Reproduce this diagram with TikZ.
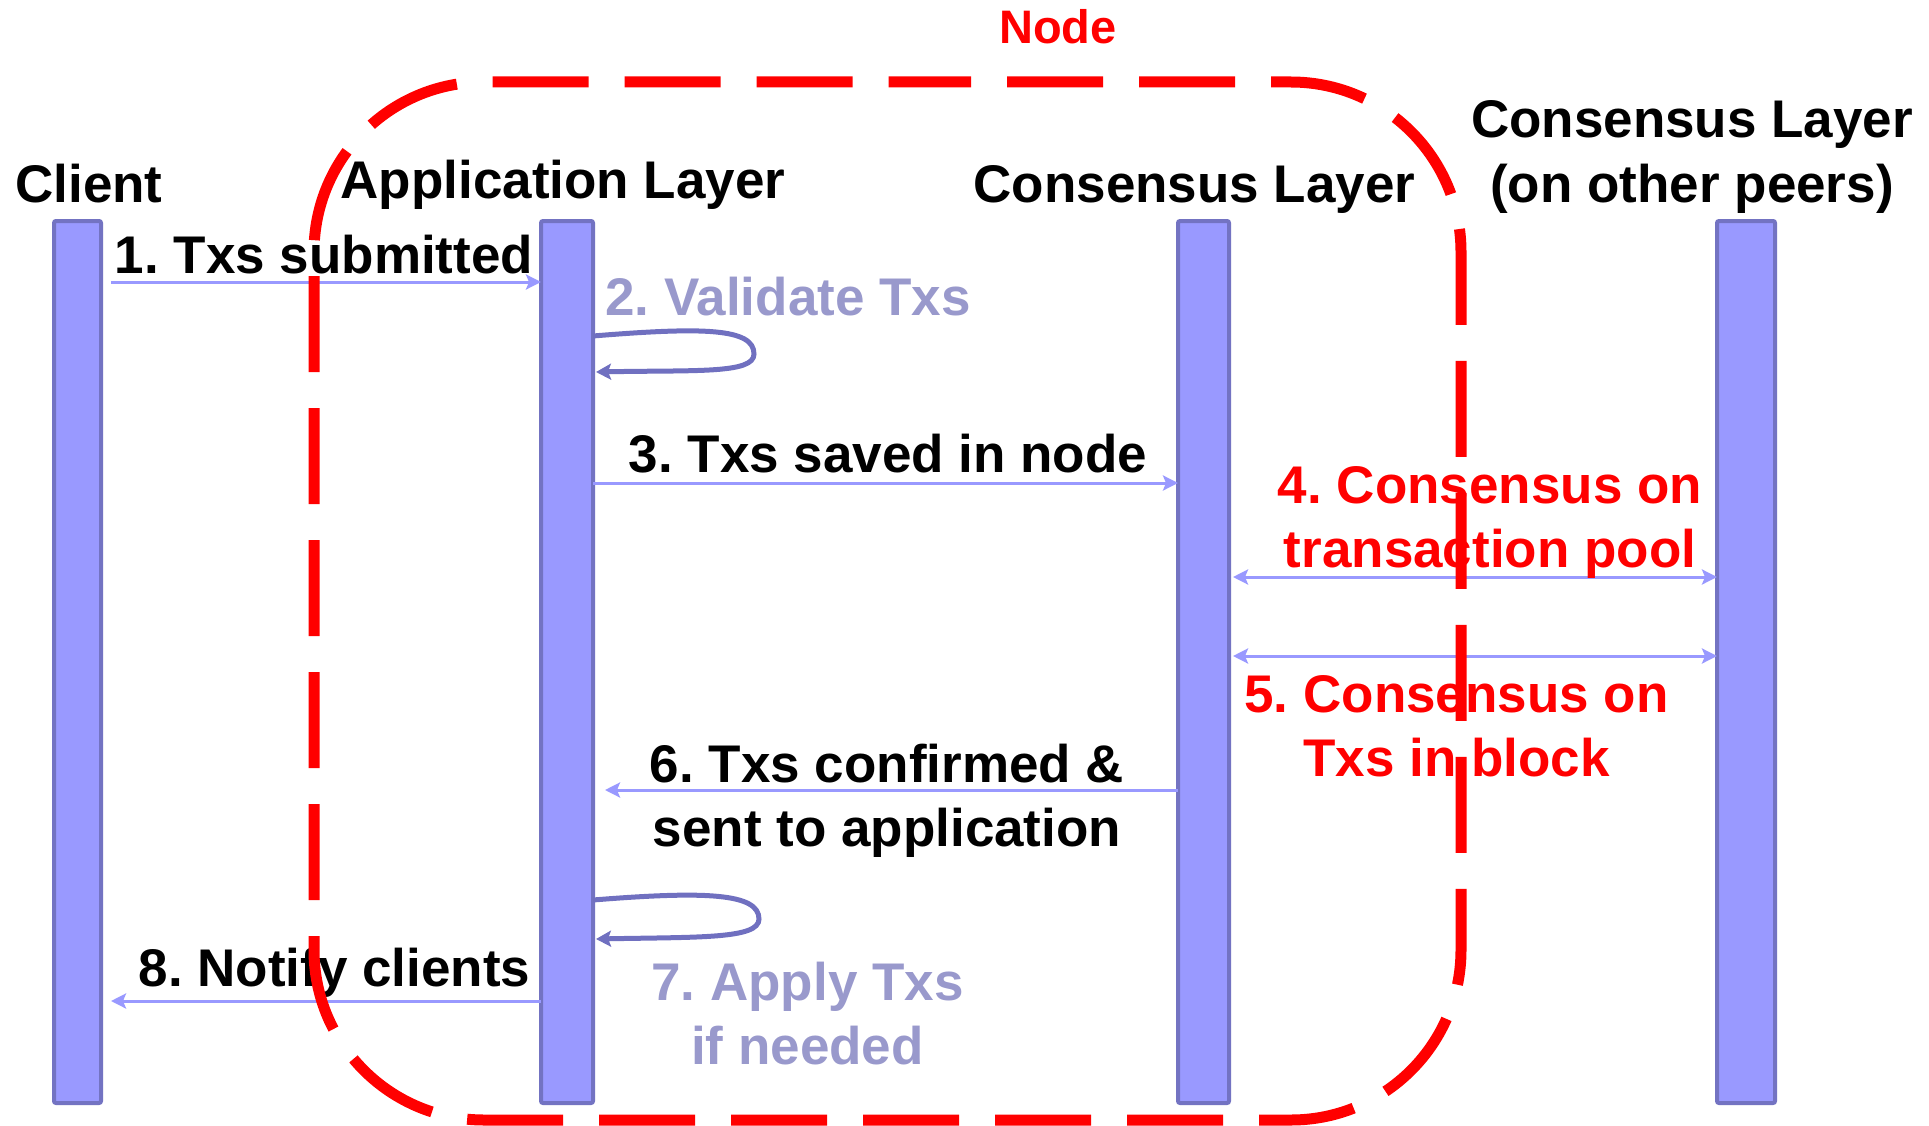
\documentclass[tikz,border=0pt]{standalone}
\usepackage{fontspec}
\setmainfont{Liberation Sans}
\usetikzlibrary{arrows.meta}

\definecolor{barfill}{HTML}{9999FF}
\definecolor{barline}{HTML}{7373C2}
\definecolor{msgline}{HTML}{9999FF}
\definecolor{loopline}{HTML}{7070C0}
\definecolor{steptext}{HTML}{9999CC}
\definecolor{nodered}{HTML}{FF0000}

\begin{document}
\frenchspacing
\begin{tikzpicture}[x=1pt,y=-1pt,
  lifeline/.style={draw=barline, fill=barfill, line width=4pt, rounded corners=2pt,
    inner sep=0pt, outer sep=0pt, minimum height=882pt},
  head/.style={font=\bfseries\fontsize{53}{65}\selectfont, inner sep=0pt, anchor=base, align=center},
  lbl/.style={font=\bfseries\fontsize{53}{64}\selectfont, inner sep=0pt, anchor=base, align=center},
  msg/.style={draw=msgline, line width=3pt, -{Stealth[length=15pt,width=15pt,inset=3pt]}},
  twoway/.style={draw=msgline, line width=3pt,
    {Stealth[length=15pt,width=15pt,inset=3pt]}-{Stealth[length=15pt,width=15pt,inset=3pt]}},
  selfloop/.style={draw=loopline, line width=5pt, -{Stealth[length=15pt,width=16pt,inset=3pt]}},
  nodeframe/.style={draw=nodered, line width=11pt, dash pattern=on 96pt off 36pt,
    dash phase=25pt, rounded corners=170pt}
]
\useasboundingbox (0,0) rectangle (1929,1126);

% lifelines
\node[lifeline, minimum width=47pt] (client) at (77.5,662) {};
\node[lifeline, minimum width=52pt] (app)    at (567,662)  {};
\node[lifeline, minimum width=51pt] (cons)   at (1203.5,662) {};
\node[lifeline, minimum width=58pt] (peer)   at (1746,662) {};

% headers (base anchor of a two-line node sits on its last line)
\node[head] (hclient) at (89,203)    {Client};
\node[head] (happ)    at (563,198)   {Application Layer};
\node[head] (hcons)   at (1194.5,202) {Consensus Layer};
\node[head] (hpeer)   at (1692,202)  {Consensus Layer\\(on other peers)};
\node[head, font=\bfseries\fontsize{47}{56}\selectfont, text=nodered] (hnode) at (1058,44) {Node};

% messages
\draw[msg] ([xshift=10pt]client.east |- 0,282) -- (app.west |- 0,282);
\node[lbl] (m1) at (324,273) {1. Txs submitted};

\draw[selfloop] (app.east |- 0,336)
  .. controls +(110,-9) and +(0,-26) .. ([xshift=161pt]app.east |- 0,354)
  .. controls +(0,20) and +(100,-2) .. ([xshift=3pt]app.east |- 0,372);
\node[lbl, text=steptext] (m2) at (788,315) {2. Validate Txs};

\draw[msg] (app.east |- 0,483) -- (cons.west |- 0,483);
\node[lbl] (m3) at (888,472) {3. Txs saved in node};

\draw[twoway] ([xshift=4pt]cons.east |- 0,577) -- (peer.west |- 0,577);
\node[lbl, text=nodered] (m4) at (1490,567) {4. Consensus on\\transaction pool};

\draw[twoway] ([xshift=4pt]cons.east |- 0,656) -- (peer.west |- 0,656);
\node[lbl, text=nodered] (m5) at (1456.5,776) {5. Consensus on\\Txs in block};

\draw[msg] (cons.west |- 0,790) -- ([xshift=12pt]app.east |- 0,790);
\node[lbl] (m6) at (887,846) {6. Txs confirmed \&\\sent to application};

\draw[selfloop] (app.east |- 0,900)
  .. controls +(112,-9) and +(0,-26) .. ([xshift=166pt]app.east |- 0,919)
  .. controls +(0,20) and +(104,-2) .. ([xshift=3pt]app.east |- 0,939);
\node[lbl, text=steptext] (m7) at (807.5,1064) {7. Apply Txs\\if needed};

\draw[msg] (app.west |- 0,1001) -- ([xshift=10pt]client.east |- 0,1001);
\node[lbl] (m8) at (334.6,986) {8. Notify clients};

% node boundary, drawn over everything else
\draw[nodeframe] (900,82) -- (1461,82) -- (1461,1120) -- (314,1120) -- (314,82) -- (900,82);
\end{tikzpicture}
\end{document}
